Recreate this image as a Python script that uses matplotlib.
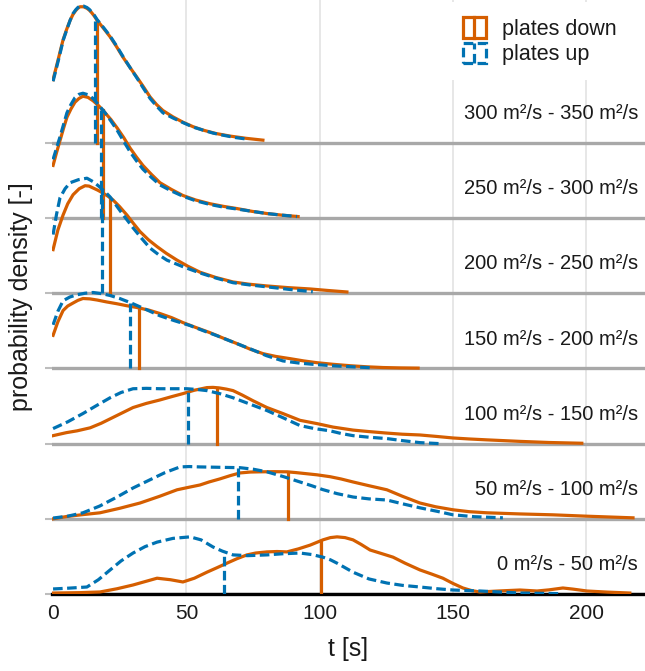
import matplotlib.pyplot as plt
import numpy as np
from matplotlib.legend_handler import HandlerBase
from matplotlib.patches import Rectangle
from matplotlib.lines import Line2D

plt.rcParams['font.family'] = ['Liberation Sans', 'DejaVu Sans']

# discharge classes, bottom ridge first
ranges = ["0 m²/s - 50 m²/s", "50 m²/s - 100 m²/s", "100 m²/s - 150 m²/s",
          "150 m²/s - 200 m²/s", "200 m²/s - 250 m²/s", "250 m²/s - 300 m²/s",
          "300 m²/s - 350 m²/s"]

# plates down: t [s] and scaled density per class
down_t = [
    [0, 10, 17.6, 24, 30, 35, 39, 44, 48.7, 53, 57.7, 61.5, 65.2, 69, 72.7, 76, 80.2, 84,
     87.7, 92, 96.4, 101.2, 104, 106.5, 109.5, 112.5, 115.5, 118.9, 123, 127.5, 132,
     137.6, 142, 146.2, 150, 153.7, 157, 160.1, 167, 175.1, 181.5, 186, 191.2, 195,
     200.2, 208, 216.3],
    [0, 5, 11, 17.6, 25, 32.6, 40, 46.5, 51, 55.1, 58.5, 62.5, 66.5, 70.1, 74, 78, 83,
     87.7, 91, 95, 99, 103.9, 108, 112.5, 118.5, 125.2, 131, 137.6, 143.5, 150, 156,
     162.7, 175, 187.5, 200, 217.5],
    [0, 5, 9, 13.9, 18, 22, 26, 30, 35, 40, 44.5, 48.7, 53, 57.7, 60, 62.5, 65, 67.5,
     71, 75, 80.2, 86.2, 92.6, 99, 105, 112.5, 118.5, 125.2, 131, 137.6, 144, 150,
     156, 162.7, 175, 186, 198.3],
    [0, 1.8, 3.75, 5.5, 7.5, 9.3, 11.2, 13.8, 16.5, 20, 24, 27.5, 31.5, 36, 40.1, 44.5,
     48.7, 53.5, 58.9, 64, 69, 74, 78.8, 83.5, 88.9, 94, 99, 105, 111.4, 117.5, 123.7,
     130, 136.9],
    [0, 1.8, 3.75, 5.5, 7.5, 9.8, 12, 13.5, 15, 16.8, 18.8, 20.6, 22.5, 25, 27.7, 30.1,
     32.6, 35.8, 39, 42.5, 46.5, 50.5, 55.1, 61, 67.5, 73.5, 80.2, 88, 96.4, 103,
     110.2],
    [0, 1.3, 2.6, 3.9, 5.2, 6.7, 8.2, 9.7, 11.2, 13.1, 15, 17.2, 19.5, 21.7, 24, 26.5,
     28.9, 31.3, 33.7, 36.9, 40.1, 44.4, 48.7, 53.5, 58.9, 64, 69, 74.5, 80.2, 86,
     91.9],
    [0, 1, 2, 2.9, 3.75, 5.1, 6.4, 7.5, 8.5, 9.3, 10.1, 11.4, 12.7, 13.6, 14.5, 15.5,
     16.5, 19, 21.4, 23.8, 26.2, 28.9, 31.5, 34, 36.4, 38.8, 41.2, 45, 48.7, 52.5,
     56.2, 61, 66.4, 72.5, 78.7],
]
down_d = [
    [0.013, 0.018, 0.027, 0.07, 0.12, 0.17, 0.21, 0.19, 0.16, 0.21, 0.29, 0.35, 0.41,
     0.47, 0.52, 0.545, 0.56, 0.565, 0.56, 0.6, 0.65, 0.72, 0.75, 0.76, 0.75, 0.72,
     0.66, 0.585, 0.54, 0.49, 0.41, 0.32, 0.265, 0.21, 0.14, 0.08, 0.045, 0.027, 0.04,
     0.053, 0.04, 0.055, 0.08, 0.065, 0.04, 0.025, 0.013],
    [0.0, 0.03, 0.055, 0.08, 0.14, 0.21, 0.3, 0.386, 0.42, 0.45, 0.49, 0.53, 0.575,
     0.61, 0.622, 0.625, 0.627, 0.625, 0.615, 0.6, 0.585, 0.56, 0.53, 0.49, 0.44,
     0.386, 0.3, 0.21, 0.16, 0.12, 0.095, 0.08, 0.065, 0.053, 0.035, 0.013],
    [0.106, 0.146, 0.17, 0.21, 0.27, 0.34, 0.41, 0.48, 0.535, 0.58, 0.625, 0.665, 0.71,
     0.745, 0.748, 0.74, 0.725, 0.705, 0.645, 0.57, 0.48, 0.40, 0.31, 0.266, 0.22,
     0.18, 0.16, 0.14, 0.125, 0.115, 0.095, 0.075, 0.062, 0.05, 0.03, 0.015, 0.005],
    [0.44, 0.62, 0.77, 0.83, 0.87, 0.905, 0.93, 0.925, 0.91, 0.885, 0.86, 0.835, 0.81,
     0.775, 0.73, 0.675, 0.61, 0.545, 0.475, 0.4, 0.33, 0.255, 0.196, 0.16, 0.13,
     0.1, 0.076, 0.055, 0.036, 0.022, 0.012, 0.007, 0.004],
    [0.58, 0.84, 1.04, 1.19, 1.31, 1.39, 1.43, 1.425, 1.40, 1.37, 1.33, 1.29, 1.24,
     1.15, 1.04, 0.93, 0.82, 0.71, 0.62, 0.53, 0.44, 0.36, 0.28, 0.21, 0.15, 0.12,
     0.097, 0.075, 0.057, 0.037, 0.017],
    [0.70, 0.87, 1.03, 1.19, 1.34, 1.45, 1.54, 1.59, 1.62, 1.605, 1.56, 1.49, 1.40,
     1.31, 1.20, 1.07, 0.93, 0.81, 0.70, 0.58, 0.47, 0.38, 0.30, 0.24, 0.19, 0.155,
     0.126, 0.09, 0.06, 0.038, 0.02],
    [0.84, 0.98, 1.12, 1.25, 1.37, 1.51, 1.63, 1.71, 1.76, 1.79, 1.81, 1.81, 1.79,
     1.765, 1.73, 1.685, 1.63, 1.52, 1.41, 1.28, 1.14, 1.0, 0.87, 0.74, 0.61, 0.51,
     0.43, 0.345, 0.275, 0.215, 0.17, 0.125, 0.09, 0.06, 0.036],
]

# plates up
up_t = [
    [0, 6, 12.7, 17, 21.4, 25.5, 30, 34.5, 39, 45, 51.4, 55.5, 60, 63.5, 67.5, 73, 80.2,
     86, 92.6, 97, 101.2, 104, 106.5, 109.5, 112.5, 118.5, 125.2, 131, 137.6, 144, 150,
     160.1, 175.1, 190],
    [0, 5.5, 11.2, 17.5, 24, 30, 36.4, 42, 47.6, 51, 55.1, 62.5, 70.1, 75, 80.2, 86.5,
     92.6, 97, 101, 106.5, 112.5, 118.5, 125.2, 131, 137.6, 144, 150, 158, 168.7],
    [0, 5.5, 11.2, 16, 21.4, 25.5, 30, 35, 40.1, 45, 50.2, 54, 57.7, 62.5, 67.5, 73.5,
     80.2, 86.5, 92.6, 98, 103.9, 108, 112.5, 118.5, 125.2, 131, 137.6, 145],
    [0, 1.8, 3.75, 6.3, 9, 12, 15, 18.2, 21.4, 25, 29, 34.5, 40.1, 45.5, 51.4, 56.5,
     61.5, 67.5, 74, 80, 86.2, 92.5, 99, 105, 111.4, 120],
    [0, 1.3, 2.6, 4.5, 6.4, 9.5, 12.7, 15.2, 17.6, 19.5, 21.4, 25.5, 30, 33.2, 36.4,
     39.5, 42.7, 48.9, 55.1, 61.3, 67.5, 73.8, 80.2, 88.8, 97.4],
    [0, 1.3, 2.6, 3.9, 5.2, 6.7, 8.2, 9.7, 11.2, 13.1, 15, 17.2, 19.5, 21.7, 24, 26.5,
     28.9, 31.3, 33.7, 36.9, 40.1, 44.4, 48.7, 53.5, 58.9, 64, 69, 74.5, 80.2, 86,
     91.5],
    [0, 1, 2, 2.9, 3.75, 5.1, 6.4, 7.5, 8.5, 9.3, 10.1, 11.4, 12.7, 13.6, 14.5, 15.5,
     16.5, 19, 21.4, 23.8, 26.2, 28.9, 31.5, 34, 36.4, 38.8, 41.2, 45, 48.7, 52.5,
     56.2, 60, 64, 68.5, 72.7],
]
up_d = [
    [0.067, 0.078, 0.093, 0.19, 0.32, 0.44, 0.545, 0.63, 0.69, 0.74, 0.76, 0.72, 0.625,
     0.57, 0.52, 0.51, 0.52, 0.535, 0.545, 0.525, 0.49, 0.455, 0.41, 0.35, 0.29, 0.2,
     0.146, 0.115, 0.093, 0.07, 0.053, 0.04, 0.013, 0.005],
    [0.01, 0.035, 0.08, 0.17, 0.29, 0.41, 0.52, 0.615, 0.69, 0.695, 0.69, 0.685, 0.68,
     0.66, 0.625, 0.56, 0.49, 0.44, 0.39, 0.335, 0.29, 0.265, 0.25, 0.2, 0.146, 0.1,
     0.053, 0.028, 0.013],
    [0.2, 0.29, 0.4, 0.5, 0.61, 0.68, 0.73, 0.735, 0.73, 0.73, 0.73, 0.72, 0.705, 0.665,
     0.61, 0.53, 0.44, 0.34, 0.24, 0.2, 0.17, 0.135, 0.106, 0.085, 0.067, 0.04, 0.013,
     0.0],
    [0.58, 0.76, 0.90, 0.95, 0.98, 1.0, 1.01, 0.995, 0.97, 0.93, 0.875, 0.79, 0.70,
     0.635, 0.57, 0.5, 0.435, 0.35, 0.26, 0.17, 0.10, 0.07, 0.05, 0.035, 0.023, 0.008],
    [0.78, 1.05, 1.27, 1.39, 1.47, 1.51, 1.53, 1.48, 1.41, 1.35, 1.28, 1.08, 0.87,
     0.73, 0.60, 0.515, 0.44, 0.35, 0.27, 0.2, 0.14, 0.11, 0.085, 0.05, 0.02],
    [0.78, 0.93, 1.08, 1.24, 1.40, 1.51, 1.60, 1.645, 1.66, 1.64, 1.59, 1.50, 1.40,
     1.29, 1.17, 1.02, 0.88, 0.76, 0.65, 0.54, 0.44, 0.36, 0.29, 0.23, 0.18, 0.145,
     0.12, 0.09, 0.06, 0.038, 0.02],
    [0.82, 0.96, 1.10, 1.23, 1.36, 1.50, 1.63, 1.72, 1.77, 1.80, 1.82, 1.82, 1.80,
     1.775, 1.74, 1.695, 1.64, 1.53, 1.42, 1.29, 1.15, 1.0, 0.86, 0.72, 0.59, 0.49,
     0.40, 0.33, 0.27, 0.21, 0.17, 0.13, 0.10, 0.07, 0.05],
]

# medians [s]
median_down = [100.5, 88, 61.6, 32.2, 21.4, 18.6, 16.6]
median_up = [64, 69.5, 50.7, 29, 18.5, 17.8, 15.8]

xticks = [0, 50, 100, 150, 200]

orange = '#D55E00'
blue = '#0072B2'
dash = (3.0, 1.4)
lw = 2.3


class RidgeKey(HandlerBase):
    # box outline with a line through the middle, as in the ridges
    def create_artists(self, legend, orig_handle, xdescent, ydescent,
                       width, height, fontsize, trans):
        c = orig_handle.get_color()
        ls = (0, dash) if orig_handle.get_linestyle() == '--' else '-'
        box = Rectangle((-xdescent, -ydescent), width, height, facecolor='none',
                        edgecolor=c, lw=lw, ls=ls, transform=trans)
        mid = Line2D([-xdescent + width / 2] * 2, [-ydescent, -ydescent + height],
                     color=c, lw=lw, ls=ls, transform=trans)
        return [box, mid]


fig = plt.figure(figsize=(6.45, 6.71), dpi=100)
ax = fig.add_axes([52 / 645, 77 / 671, 593 / 645, 594 / 671])

for i in range(len(ranges)):
    td, dd = np.array(down_t[i]), np.array(down_d[i])
    tu, du = np.array(up_t[i]), np.array(up_d[i])
    ax.plot(td, i + dd, color=orange, lw=lw, zorder=3, solid_joinstyle='round')
    ax.plot(tu, i + du, color=blue, lw=lw, ls='--', dashes=dash, zorder=4)
    hd = np.interp(median_down[i], td, dd)
    hu = np.interp(median_up[i], tu, du)
    ax.plot([median_down[i]] * 2, [i, i + hd], color=orange, lw=lw, zorder=3)
    ax.plot([median_up[i]] * 2, [i, i + hu], color=blue, lw=lw, ls='--', dashes=dash, zorder=4)
    ax.text(0.988, i + 0.39, ranges[i], transform=ax.get_yaxis_transform(),
            ha='right', va='center', fontsize=14.5, color='#1A1A1A', zorder=5)

for x in xticks[1:]:
    ax.axvline(x, color='#E3E3E3', lw=1.2, zorder=0)

ax.set_xlim(-0.4, 222)
ax.set_ylim(0, 7.9)
ax.set_yticks(range(len(ranges)))
ax.set_xticks(xticks)
ax.set_axisbelow(True)
ax.yaxis.grid(True, color='#A8A8A8', lw=2.4)
ax.tick_params(axis='y', length=5, width=1.5, color='#BDBDBD', labelleft=False)
ax.tick_params(axis='x', length=0, pad=7, labelsize=15, labelcolor='#1A1A1A')
for s in ['top', 'right', 'left']:
    ax.spines[s].set_visible(False)
ax.spines['bottom'].set_color('black')
ax.spines['bottom'].set_linewidth(2.4)

ax.set_xlabel('t [s]', fontsize=18, color='#1A1A1A', labelpad=10)
ax.set_ylabel('probability density [-]', fontsize=18, color='#1A1A1A', labelpad=9)

handles = [Line2D([], [], color=orange, ls='-'), Line2D([], [], color=blue, ls='--')]
leg = ax.legend(handles, ['plates down', 'plates up'], handler_map={Line2D: RidgeKey()},
                loc='upper left', bbox_to_anchor=(448 / 645, 1 - 2.4 / 671),
                bbox_transform=fig.transFigure, fontsize=15.5, frameon=True,
                facecolor='white', edgecolor='none', framealpha=1, fancybox=False,
                handlelength=1.05, handleheight=1.1, handletextpad=0.75,
                labelspacing=0.12, borderpad=0.7, borderaxespad=0)
for txt in leg.get_texts():
    txt.set_color('#1A1A1A')

fig.savefig('out.png', dpi=100)
